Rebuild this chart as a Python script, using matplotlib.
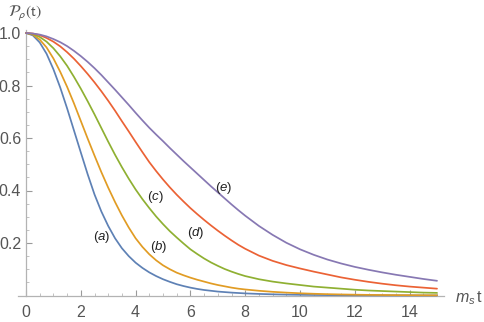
import matplotlib
matplotlib.use("Agg")
import matplotlib.pyplot as plt
from matplotlib.ticker import MultipleLocator, FixedLocator

# ---- data ----
t = [0, 0.25, 0.5, 0.75, 1, 1.25, 1.5, 1.75, 2, 2.25, 2.5, 2.75, 3, 3.25, 3.5,
     3.75, 4, 4.25, 4.5, 4.75, 5, 5.25, 5.5, 5.75, 6, 6.25, 6.5, 6.75, 7, 7.25,
     7.5, 7.75, 8,
     8.5, 9, 9.5, 10, 10.5, 11, 11.5, 12, 12.5, 13, 13.5, 14, 14.5, 15]

curve_a = [1.0, 0.991, 0.964, 0.921, 0.862, 0.792, 0.713, 0.629, 0.545, 0.462,
           0.385, 0.320, 0.265, 0.218, 0.180, 0.150, 0.125, 0.105, 0.088, 0.074,
           0.062, 0.052, 0.043, 0.036, 0.030, 0.025, 0.021, 0.018, 0.015, 0.013,
           0.011, 0.0095, 0.008,
           0.006, 0.0045, 0.0034, 0.0026, 0.002, 0.0015, 0.0011, 0.0008, 0.0006,
           0.0005, 0.0004, 0.0003, 0.0002, 0.0002]
curve_b = [1.0, 0.994, 0.975, 0.945, 0.903, 0.852, 0.795, 0.732, 0.665, 0.598,
           0.533, 0.470, 0.411, 0.356, 0.305, 0.259, 0.218, 0.185, 0.157, 0.134,
           0.115, 0.100, 0.087, 0.077, 0.068, 0.060, 0.053, 0.046, 0.040, 0.035,
           0.030, 0.026, 0.023,
           0.018, 0.014, 0.011, 0.0085, 0.0066, 0.0051, 0.004, 0.0031, 0.0024,
           0.0019, 0.0015, 0.0012, 0.0009, 0.0007]
curve_c = [1.0, 0.996, 0.985, 0.967, 0.942, 0.911, 0.875, 0.833, 0.788, 0.740,
           0.690, 0.638, 0.586, 0.536, 0.489, 0.445, 0.404, 0.367, 0.333, 0.301,
           0.272, 0.245, 0.221, 0.198, 0.176, 0.158, 0.141, 0.126, 0.113, 0.101,
           0.091, 0.082, 0.074,
           0.062, 0.053, 0.046, 0.040, 0.034, 0.030, 0.026, 0.022, 0.019, 0.017,
           0.015, 0.013, 0.011, 0.010]
curve_d = [1.0, 0.998, 0.992, 0.981, 0.967, 0.949, 0.927, 0.902, 0.874, 0.844,
           0.812, 0.778, 0.742, 0.704, 0.664, 0.625, 0.585, 0.546, 0.508, 0.474,
           0.442, 0.412, 0.384, 0.358, 0.333, 0.310, 0.288, 0.267, 0.247, 0.228,
           0.210, 0.193, 0.178,
           0.152, 0.132, 0.116, 0.103, 0.091, 0.080, 0.069, 0.060, 0.052, 0.045,
           0.039, 0.034, 0.030, 0.026]
curve_e = [1.0, 0.998, 0.994, 0.987, 0.977, 0.965, 0.950, 0.932, 0.912, 0.890,
           0.866, 0.840, 0.812, 0.784, 0.755, 0.726, 0.696, 0.667, 0.639, 0.613,
           0.588, 0.562, 0.537, 0.512, 0.488, 0.464, 0.440, 0.416, 0.393, 0.370,
           0.347, 0.325, 0.304,
           0.265, 0.231, 0.201, 0.176, 0.155, 0.137, 0.122, 0.109, 0.098, 0.088,
           0.079, 0.071, 0.063, 0.056]

series = [curve_a, curve_b, curve_c, curve_d, curve_e]
colors = ["#5E81B5", "#E19C24", "#8FB032", "#EB6235", "#8778B3"]

label_text = ["a", "b", "c", "d", "e"]
label_x = [2.76, 4.83, 4.73, 6.2, 7.2]
label_y = [0.224, 0.186, 0.376, 0.237, 0.41]

x_major = [0, 2, 4, 6, 8, 10, 12, 14]
y_major = [0.2, 0.4, 0.6, 0.8, 1.0]
y_major_labels = ["0.2", "0.4", "0.6", "0.8", "1.0"]

# ---- style ----
plt.rcParams["font.family"] = ["Liberation Sans", "DejaVu Sans"]
plt.rcParams["mathtext.fontset"] = "custom"
plt.rcParams["mathtext.rm"] = "Liberation Sans"
plt.rcParams["mathtext.it"] = "Liberation Sans:italic"
plt.rcParams["mathtext.bf"] = "Liberation Sans:bold"

W, H = 485, 322
fig = plt.figure(figsize=(W / 100, H / 100), dpi=100)

xmin, xmax = -0.3, 15.25
ymin, ymax = 0.0, 1.01
px_per_x = 27.4
px_per_y = 262.5
left_px = 26 + xmin * px_per_x
bottom_px = H - 295.5
ax = fig.add_axes([left_px / W, bottom_px / H,
                   (xmax - xmin) * px_per_x / W, (ymax - ymin) * px_per_y / H])
ax.set_xlim(xmin, xmax)
ax.set_ylim(ymin, ymax)

for ys, c in zip(series, colors):
    ax.plot(t, ys, color=c, lw=1.25, solid_capstyle="round",
            solid_joinstyle="round", clip_on=False, zorder=3)

for txt, lx, ly in zip(label_text, label_x, label_y):
    ax.text(lx, ly, r"$(%s)$" % txt, ha="center", va="center",
            fontsize=9.5, color="#222222")

axis_col = "#b3b3b3"
for s in ["top", "right"]:
    ax.spines[s].set_visible(False)
ax.spines["left"].set_position(("data", 0))
ax.spines["bottom"].set_position(("data", 0))
ax.spines["left"].set_color(axis_col)
ax.spines["bottom"].set_color(axis_col)
ax.spines["left"].set_linewidth(0.9)
ax.spines["bottom"].set_linewidth(0.9)

ax.xaxis.set_major_locator(FixedLocator(x_major))
ax.xaxis.set_minor_locator(MultipleLocator(0.5))
ax.yaxis.set_major_locator(FixedLocator(y_major))
ax.set_yticklabels(y_major_labels)
ax.yaxis.set_minor_locator(MultipleLocator(0.05))
ax.tick_params(axis="both", which="major", direction="in", length=4,
               width=0.8, color="#9a9a9a", labelcolor="#555555", labelsize=11.5)
ax.tick_params(axis="both", which="minor", direction="in", length=2.3,
               width=0.6, color="#b8b8b8")
ax.tick_params(axis="x", which="major", pad=6.5)
ax.tick_params(axis="y", which="major", pad=3.5)

fig.text(8 / W, 1 - 13 / H, r"$\mathcal{P}_{\rho}(\mathrm{t})$",
         ha="left", va="center", fontsize=11.5, color="#555555",
         math_fontfamily="stixsans")
fig.text(455 / W, 1 - 298 / H, r"$m_s\,\mathrm{t}$", ha="left", va="center",
         fontsize=11.5, color="#555555")

fig.savefig("out.png", dpi=100)
